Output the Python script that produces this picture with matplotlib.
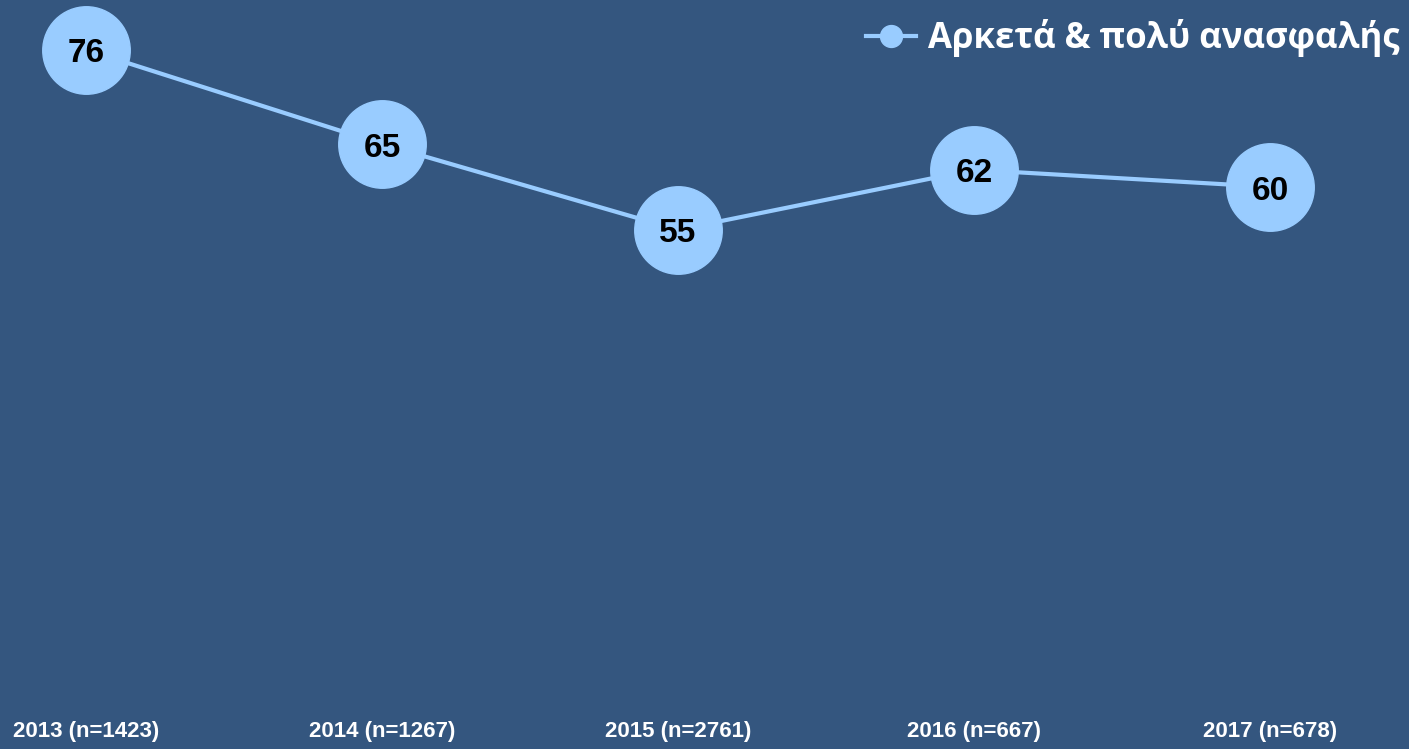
import matplotlib
matplotlib.use("Agg")
import matplotlib.pyplot as plt

categories = ["2013 (n=1423)", "2014 (n=1267)", "2015 (n=2761)", "2016 (n=667)", "2017 (n=678)"]
values = [76, 65, 55, 62, 60]
series_name = "Αρκετά & πολύ ανασφαλής"

BG = "#34567F"
LIGHT = "#99CCFF"

fig = plt.figure(figsize=(14.09, 7.49), dpi=100, facecolor=BG)
ax = fig.add_axes([0, 0.0636, 1, 0.9364])
ax.set_facecolor(BG)

x = list(range(len(categories)))
ax.plot(x, values, color=LIGHT, lw=3, marker="o", markersize=63,
        markerfacecolor=LIGHT, markeredgecolor=LIGHT, label=series_name, zorder=3)

for xi, v in zip(x, values):
    ax.annotate(f"{v}", (xi, v), xytext=(0, -3), textcoords="offset points",
                ha="center", va="center", fontsize=24, fontweight="bold",
                family="Liberation Sans", color="black", zorder=4)

ax.set_xlim(-0.2905, 4.4696)
ax.set_ylim(0, 81.8)
ax.set_xticks(x)
ax.set_xticklabels(categories, fontsize=16, fontweight="bold", family="Liberation Sans", color="white")
ax.tick_params(axis="x", length=0, pad=14)
ax.set_yticks([])
for s in ax.spines.values():
    s.set_visible(False)

leg = ax.legend(loc="upper right", bbox_to_anchor=(1.007, 1.0), frameon=False,
                markerscale=0.25, handlelength=1.45, handletextpad=0.35,
                borderaxespad=0.15,
                prop={"family": "Open Sans", "weight": "bold", "size": 25})
for t in leg.get_texts():
    t.set_color("white")

fig.savefig("out.png", dpi=100, facecolor=BG)
